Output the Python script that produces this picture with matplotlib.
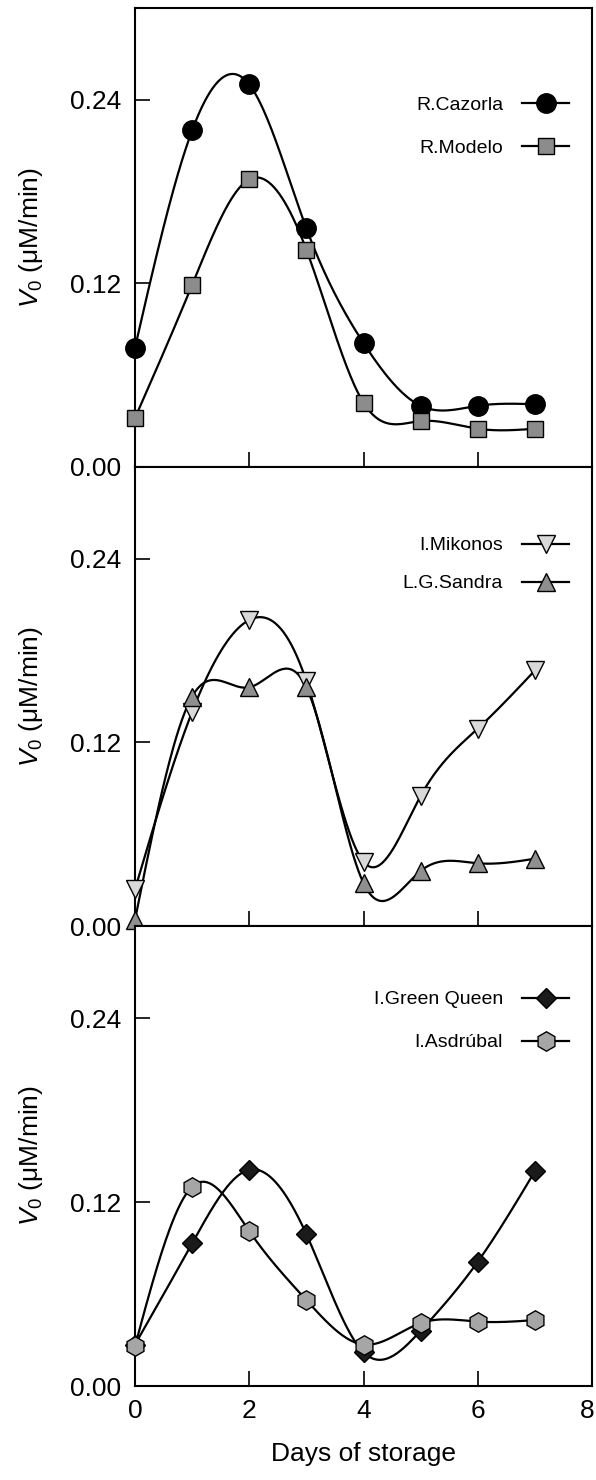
import matplotlib
matplotlib.use("Agg")
import matplotlib.pyplot as plt
import matplotlib.transforms as mtransforms
import numpy as np

plt.rcParams['font.family'] = ['Liberation Sans', 'DejaVu Sans']
plt.rcParams['mathtext.fontset'] = 'custom'
plt.rcParams['mathtext.rm'] = 'Liberation Sans'
plt.rcParams['mathtext.it'] = 'Liberation Sans:italic'

days = [0, 1, 2, 3, 4, 5, 6, 7]

cazorla = [0.078, 0.220, 0.250, 0.156, 0.081, 0.040, 0.040, 0.041]
modelo = [0.032, 0.119, 0.188, 0.142, 0.042, 0.030, 0.025, 0.025]

mikonos = [0.024, 0.140, 0.200, 0.160, 0.042, 0.085, 0.129, 0.167]
sandra = [0.004, 0.150, 0.156, 0.156, 0.028, 0.036, 0.041, 0.044]

green_queen = [0.027, 0.093, 0.141, 0.099, 0.022, 0.036, 0.081, 0.140]
asdrubal = [0.026, 0.130, 0.101, 0.056, 0.027, 0.041, 0.042, 0.043]

yticks = [0.00, 0.12, 0.24]
ytick_labels = ['0.00', '0.12', '0.24']
xticks = [0, 2, 4, 6, 8]


def spline(x, y, n=300):
    # natural cubic spline through the points (like the SigmaPlot curve)
    x = np.asarray(x, float)
    y = np.asarray(y, float)
    k = len(x)
    h = np.diff(x)
    A = np.zeros((k, k))
    r = np.zeros(k)
    A[0, 0] = 1
    A[-1, -1] = 1
    for i in range(1, k - 1):
        A[i, i - 1] = h[i - 1]
        A[i, i] = 2 * (h[i - 1] + h[i])
        A[i, i + 1] = h[i]
        r[i] = 6 * ((y[i + 1] - y[i]) / h[i] - (y[i] - y[i - 1]) / h[i - 1])
    M = np.linalg.solve(A, r)
    xs = np.linspace(x[0], x[-1], n)
    idx = np.clip(np.searchsorted(x, xs) - 1, 0, k - 2)
    x0, x1 = x[idx], x[idx + 1]
    hh = x1 - x0
    a = (x1 - xs) / hh
    b = (xs - x0) / hh
    ys = (a * y[idx] + b * y[idx + 1]
          + ((a ** 3 - a) * M[idx] + (b ** 3 - b) * M[idx + 1]) * hh ** 2 / 6)
    return xs, ys


panels = [
    [('R.Cazorla', cazorla, 'o', '#000000', 14),
     ('R.Modelo', modelo, 's', '#8c8c8c', 11)],
    [('I.Mikonos', mikonos, 'v', '#d9d9d9', 13),
     ('L.G.Sandra', sandra, '^', '#8f8f8f', 13)],
    [('I.Green Queen', green_queen, 'D', '#1a1a1a', 10.5),
     ('I.Asdrúbal', asdrubal, 'h', '#a6a6a6', 14)],
]
legend_tops = [0.807, 0.848, 0.859]
legend_gaps = [1.3, 1.05, 1.3]

fig = plt.figure(figsize=(5.96, 14.8), dpi=100)
W, H = 596.0, 1480.0
edges = [8, 467, 926, 1386]

for p, series in enumerate(panels):
    top, bot = edges[p], edges[p + 1]
    ax = fig.add_axes([135 / W, 1 - bot / H, 457 / W, (bot - top) / H])

    for name, vals, mk, fc, ms in series:
        xs, ys = spline(days, vals)
        ax.plot(xs, ys, color='black', lw=1.6, zorder=2)
        ax.plot(days, vals, ls='none', marker=mk, ms=ms, mfc=fc,
                mec='black', mew=1.0, zorder=3, clip_on=False)
        ax.plot([], [], color='black', lw=1.6, marker=mk, ms=ms, mfc=fc,
                mec='black', mew=1.0, label=name)

    ax.set_xlim(0, 8)
    ax.set_ylim(0, 0.30)
    ax.set_yticks(yticks)
    ax.set_yticklabels(ytick_labels)
    ax.set_xticks(xticks)
    ax.tick_params(direction='in', length=11, width=1.2, labelsize=19, pad=9)
    ax.tick_params(axis='y', pad=10)
    for s in ax.spines.values():
        s.set_linewidth(1.5)
    if p < 2:
        ax.tick_params(labelbottom=False)
    else:
        ax.set_xlabel('Days of storage', fontsize=19, labelpad=14)
        # last label sits at the figure edge, nudge it in a little
        lab = ax.get_xticklabels()[-1]
        lab.set_transform(lab.get_transform() + mtransforms.ScaledTranslation(
            -5 / 100, 0, fig.dpi_scale_trans))

    ax.set_ylabel(r'$V_0$ (μM/min)', fontsize=19, labelpad=18)

    ax.legend(loc='upper right', bbox_to_anchor=(0.95, legend_tops[p]),
              frameon=False, markerfirst=False, numpoints=1,
              handlelength=2.4, handletextpad=1.0,
              labelspacing=legend_gaps[p],
              borderpad=0, borderaxespad=0, fontsize=14)

fig.savefig('out.png', dpi=100)
